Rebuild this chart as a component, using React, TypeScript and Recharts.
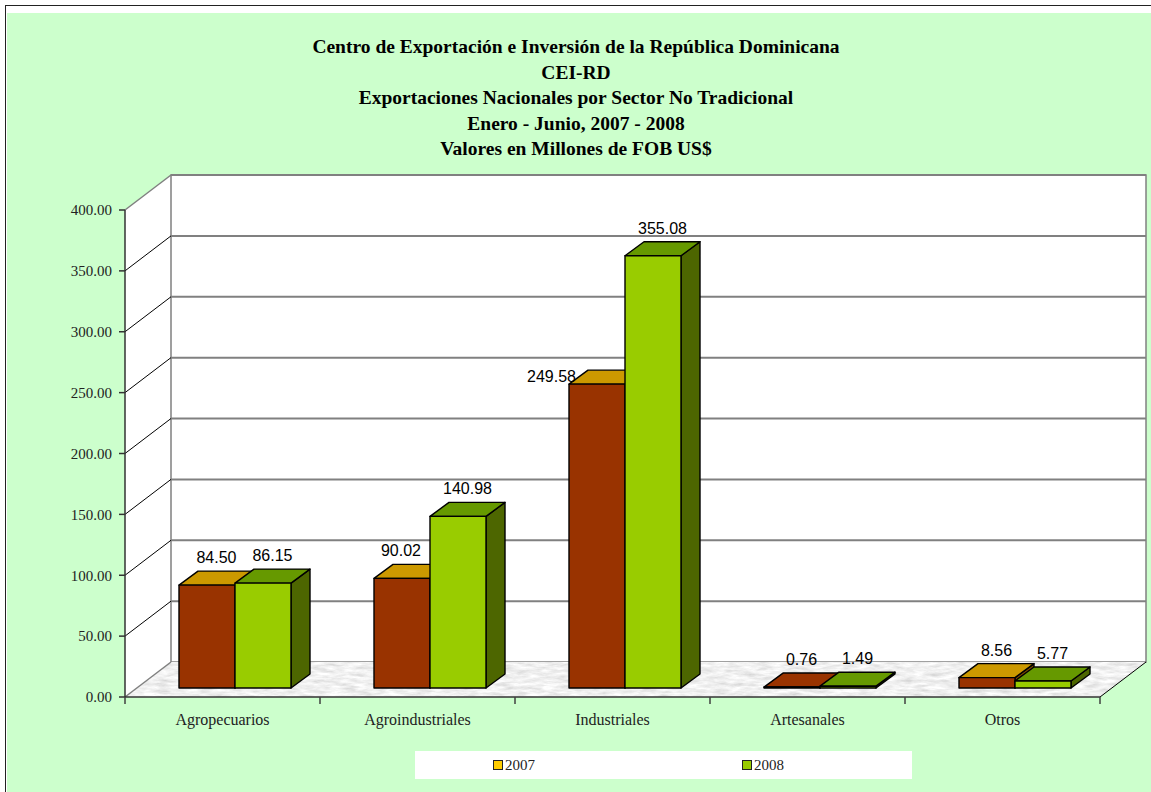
import React from 'react';
import { BarChart, Bar, XAxis, YAxis, ReferenceArea, ReferenceLine, LabelList } from 'recharts';

const categories = ['Agropecuarios', 'Agroindustriales', 'Industriales', 'Artesanales', 'Otros'];
const values2007 = [84.5, 90.02, 249.58, 0.76, 8.56];
const values2008 = [86.15, 140.98, 355.08, 1.49, 5.77];
const yTicks = [0, 50, 100, 150, 200, 250, 300, 350, 400];
const seriesNames = ['2007', '2008'];
const titleLines = [
  'Centro de Exportación e Inversión de la República Dominicana',
  'CEI-RD',
  'Exportaciones Nacionales por Sector No Tradicional',
  'Enero - Junio, 2007 - 2008',
  'Valores en Millones de FOB US$',
];

const data = categories.map((c, i) => ({ name: c, v2007: values2007[i], v2008: values2008[i] }));

const SERIF = "'Liberation Serif', 'Times New Roman', serif";
const SANS = "'Liberation Sans', Arial, sans-serif";

// 3D geometry (styling constants)
const WALL_DX = 46;
const WALL_DY = -35;
const BAR_DX = 12;
const BAR_DY = -9;
const DEPTH_DX = 19;
const DEPTH_DY = -14;

const colors2007 = { front: '#993300', top: '#CC9900', side: '#7A4A00', legend: '#FFCC00' };
const colors2008 = { front: '#99CC00', top: '#669900', side: '#4D6600', legend: '#99CC00' };

const makeBar3D = (c: any) => (props: any) => {
  const { x, y, width, height } = props;
  if (x == null || y == null) return <g />;
  const fx = x + BAR_DX;
  const fy = y + BAR_DY;
  const w = width;
  const h = Math.max(height, 0);
  const flat = h < 2;
  const top = `M${fx},${fy} L${fx + w},${fy} L${fx + w + DEPTH_DX},${fy + DEPTH_DY} L${fx + DEPTH_DX},${fy + DEPTH_DY} Z`;
  const side = `M${fx + w},${fy} L${fx + w + DEPTH_DX},${fy + DEPTH_DY} L${fx + w + DEPTH_DX},${fy + h + DEPTH_DY} L${fx + w},${fy + h} Z`;
  return (
    <g stroke="#000" strokeWidth={1.4} strokeLinejoin="round">
      <path d={side} fill={c.side} />
      <path d={top} fill={flat && c === colors2007 ? c.front : c.top} />
      <rect x={fx} y={fy} width={w} height={h} fill={c.front} />
    </g>
  );
};

const textWidth = (s: string) => {
  let w = 0;
  for (const ch of s) w += ch === '.' ? 4.45 : 8.9;
  return w;
};

const makeLabel = (seriesIdx: number) => (props: any) => {
  const vb = props.viewBox && props.viewBox.width != null ? props.viewBox : props;
  const { x, y, width, height } = vb;
  const index = props.index;
  const raw = seriesIdx === 0 ? values2007[index] : values2008[index];
  if (x == null || raw == null) return <g />;
  const str = Number(raw).toFixed(2);
  const w = textWidth(str);
  let cx = x + BAR_DX + width / 2 + DEPTH_DX / 2;
  let baseline = y + BAR_DY + DEPTH_DY - 8;
  if (seriesIdx === 0) {
    const other = values2008[index];
    if (other > raw && raw > 0) {
      const bottom = y + height;
      const pxPerUnit = height / raw;
      const otherTopBack = bottom - other * pxPerUnit + BAR_DY + DEPTH_DY;
      const otherLeft = x + width + BAR_DX;
      if (otherTopBack < baseline && cx + w / 2 > otherLeft - 9) {
        const overlap = cx + w / 2 - (otherLeft - 9);
        if (overlap > 12) {
          // strong collision: move the label to the left of the bar top
          cx = x + BAR_DX + 7 - w / 2;
          baseline = y + BAR_DY - 2;
        } else {
          cx = otherLeft - 9 - w / 2;
        }
      }
    }
  }
  return (
    <text x={cx} y={baseline} textAnchor="middle" fontFamily={SANS} fontSize={16} fill="#000">
      {str}
    </text>
  );
};

const Walls = (props: any) => {
  const { x, y, width, height } = props;
  if (x == null) return <g />;
  const b = y + height;
  const r = x + width;
  return (
    <g>
      <defs>
        <filter id="marbleFx" x="0" y="0" width="100%" height="100%" filterUnits="objectBoundingBox">
          <feTurbulence type="fractalNoise" baseFrequency="0.07 0.3" numOctaves="4" seed="7" result="n" />
          <feColorMatrix
            in="n"
            type="matrix"
            values="0.5 0 0 0 0.62  0.5 0 0 0 0.62  0.5 0 0 0 0.62  0 0 0 0 1"
            result="g"
          />
          <feComposite in="g" in2="SourceGraphic" operator="in" />
        </filter>
      </defs>
      {/* side wall */}
      <path
        d={`M${x},${b} L${x},${y} L${x + WALL_DX},${y + WALL_DY} L${x + WALL_DX},${b + WALL_DY} Z`}
        fill="#FFFFFF"
        stroke="none"
      />
      {/* back wall */}
      <rect
        x={x + WALL_DX}
        y={y + WALL_DY}
        width={width}
        height={height}
        fill="#FFFFFF"
        stroke="#808080"
        strokeWidth={1.5}
      />
      {/* floor */}
      <path
        d={`M${x},${b} L${r},${b} L${r + WALL_DX},${b + WALL_DY} L${x + WALL_DX},${b + WALL_DY} Z`}
        fill="#E6E6E6"
        filter="url(#marbleFx)"
      />
      <line x1={r} y1={b} x2={r + WALL_DX} y2={b + WALL_DY} stroke="#000" strokeWidth={1} />
    </g>
  );
};

const makeGridShape = (v: number) => (props: any) => {
  const { x1, y1, x2 } = props;
  if (x1 == null) return <g />;
  const edge = v === 0 || v === 400;
  return (
    <g>
      <line
        x1={x1}
        y1={y1}
        x2={x1 + WALL_DX}
        y2={y1 + WALL_DY}
        stroke={edge ? '#808080' : '#000'}
        strokeWidth={edge ? 1.5 : 1}
      />
      {v !== 0 && (
        <line
          x1={x1 + WALL_DX}
          y1={y1 + WALL_DY}
          x2={x2 + WALL_DX}
          y2={y1 + WALL_DY}
          stroke="#808080"
          strokeWidth={2}
        />
      )}
    </g>
  );
};

const XTick = (props: any) => {
  const { x, y, payload, index } = props;
  const half = payload && payload.offset ? payload.offset : 97.5;
  const last = index === categories.length - 1;
  return (
    <g>
      <line x1={x - half} y1={y - 7} x2={x - half} y2={y} stroke="#404040" strokeWidth={1.5} />
      {last && <line x1={x + half} y1={y - 7} x2={x + half} y2={y} stroke="#404040" strokeWidth={1.5} />}
      <text x={x} y={y + 21} textAnchor="middle" fontFamily={SERIF} fontSize={16} fill="#222">
        {payload.value}
      </text>
    </g>
  );
};

export default function App() {
  return (
    <div style={{ position: 'absolute', left: 0, top: 0, width: 1151, height: 792, overflow: 'hidden' }}>
      <div
        style={{
          position: 'absolute',
          left: 5,
          top: 5,
          width: 1160,
          height: 800,
          border: '1px solid #222',
          background: '#FFFFFF',
        }}
      >
        <div style={{ position: 'absolute', left: 1, top: 7, right: 0, bottom: 0, background: '#CCFFCC' }} />
      </div>
      <div
        style={{
          position: 'absolute',
          left: 0,
          top: 34,
          width: 1152,
          textAlign: 'center',
          fontFamily: SERIF,
          fontWeight: 'bold',
          fontSize: 19.5,
          lineHeight: '25.5px',
          color: '#000',
        }}
      >
        {titleLines.map((t, i) => (
          <div key={i}>{t}</div>
        ))}
      </div>
      <div style={{ position: 'absolute', left: 0, top: 0 }}>
        <BarChart
          width={1151}
          height={792}
          data={data}
          margin={{ top: 210, right: 51, bottom: 65, left: 65 }}
          barCategoryGap={42}
          barGap={0}
        >
          <ReferenceArea y1={0} y2={400} shape={Walls} zIndex={10} ifOverflow="visible" />
          {yTicks.map((v) => (
            <ReferenceLine key={v} y={v} shape={makeGridShape(v)} zIndex={20} ifOverflow="visible" />
          ))}
          <XAxis
            dataKey="name"
            height={30}
            tickSize={7}
            tickMargin={0}
            tickLine={false}
            axisLine={{ stroke: '#333', strokeWidth: 1.5 }}
            tick={XTick}
            interval={0}
          />
          <YAxis
            width={60}
            domain={[0, 400]}
            ticks={yTicks}
            tickFormatter={(v: number) => v.toFixed(2)}
            tickSize={6}
            tickMargin={7}
            axisLine={{ stroke: '#333', strokeWidth: 1.5 }}
            tickLine={{ stroke: '#333', strokeWidth: 1.5 }}
            tick={{ fontFamily: SERIF, fontSize: 15, fill: '#222' }}
          />
          <Bar dataKey="v2007" name={seriesNames[0]} isAnimationActive={false} shape={makeBar3D(colors2007)}>
            <LabelList dataKey="v2007" content={makeLabel(0)} />
          </Bar>
          <Bar dataKey="v2008" name={seriesNames[1]} isAnimationActive={false} shape={makeBar3D(colors2008)}>
            <LabelList dataKey="v2008" content={makeLabel(1)} />
          </Bar>
        </BarChart>
      </div>
      <div
        style={{
          position: 'absolute',
          left: 415,
          top: 751,
          width: 497,
          height: 28,
          background: '#FFFFFF',
          fontFamily: SERIF,
          fontSize: 15,
          color: '#222',
        }}
      >
        {seriesNames.map((s, i) => (
          <div
            key={s}
            style={{
              position: 'absolute',
              left: i === 0 ? 78 : 327,
              top: 7,
              display: 'flex',
              alignItems: 'center',
              height: 14,
            }}
          >
            <span
              style={{
                display: 'inline-block',
                width: 8,
                height: 8,
                border: '1.5px solid #222',
                background: i === 0 ? colors2007.legend : colors2008.legend,
                marginRight: 2,
              }}
            />
            <span>{s}</span>
          </div>
        ))}
      </div>
    </div>
  );
}
